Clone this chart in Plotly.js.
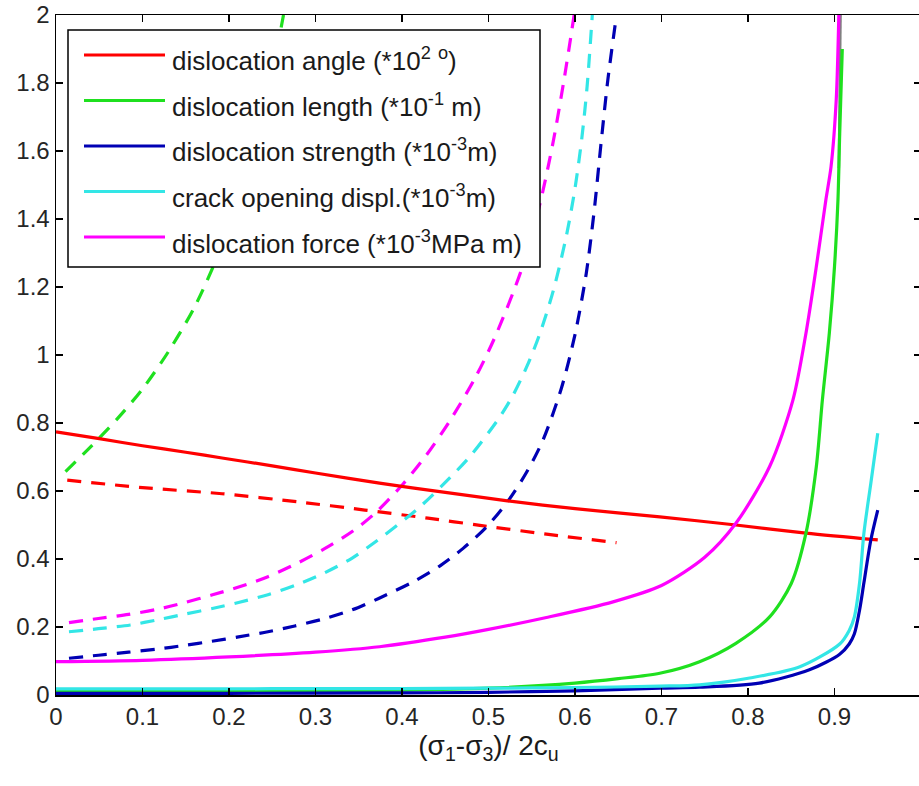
<!DOCTYPE html>
<html>
<head>
<meta charset="utf-8">
<script src="https://cdn.plot.ly/plotly-3.0.1.min.js"></script>
<style>html,body{margin:0;padding:0;overflow:hidden;background:#fff}</style>
</head>
<body>
<div id="chart"></div>
<script>
// ---------- data ----------
const seriesNames = [
  "dislocation angle (*10<sup>2</sup> <sup>o</sup>)",
  "dislocation length (*10<sup>-1</sup> m)",
  "dislocation strength (*10<sup>-3</sup>m)",
  "crack opening displ.(*10<sup>-3</sup>m)",
  "dislocation force (*10<sup>-3</sup>MPa m)"
];

// solid curves
const angleX    = [0, 0.05, 0.1, 0.15, 0.192, 0.25, 0.3, 0.374, 0.45, 0.522, 0.6, 0.698, 0.786, 0.867, 0.95];
const angleY    = [0.774, 0.754, 0.733, 0.714, 0.697, 0.674, 0.653, 0.623, 0.596, 0.571, 0.548, 0.524, 0.50, 0.476, 0.456];
const lengthX   = [0, 0.1, 0.2, 0.3, 0.4, 0.5, 0.6, 0.65, 0.698, 0.744, 0.786, 0.825, 0.85, 0.867, 0.879, 0.886, 0.894, 0.9, 0.904, 0.906, 0.909];
const lengthY   = [0.01, 0.01, 0.011, 0.012, 0.014, 0.02, 0.035, 0.048, 0.064, 0.098, 0.152, 0.23, 0.328, 0.476, 0.672, 0.868, 1.064, 1.26, 1.456, 1.65, 1.9];
const strengthX = [0, 0.2, 0.4, 0.5, 0.6, 0.698, 0.744, 0.813, 0.871, 0.906, 0.917, 0.923, 0.929, 0.934, 0.942, 0.95];
const strengthY = [0.005, 0.005, 0.006, 0.008, 0.012, 0.02, 0.023, 0.035, 0.074, 0.12, 0.15, 0.18, 0.25, 0.33, 0.456, 0.544];
const crackX    = [0, 0.1, 0.2, 0.3, 0.4, 0.5, 0.6, 0.698, 0.744, 0.802, 0.86, 0.906, 0.917, 0.923, 0.929, 0.934, 0.942, 0.95];
const crackY    = [0.018, 0.018, 0.018, 0.019, 0.019, 0.02, 0.022, 0.026, 0.03, 0.05, 0.083, 0.15, 0.19, 0.23, 0.33, 0.476, 0.623, 0.77];
const forceX    = [0, 0.1, 0.2, 0.3, 0.374, 0.45, 0.5, 0.567, 0.644, 0.7, 0.75, 0.786, 0.825, 0.852, 0.867, 0.879, 0.89, 0.896, 0.902, 0.905];
const forceY    = [0.098, 0.102, 0.112, 0.126, 0.142, 0.17, 0.193, 0.228, 0.274, 0.322, 0.405, 0.505, 0.672, 0.868, 1.064, 1.26, 1.456, 1.554, 1.75, 2.0];
const greyX     = [0.905, 0.906, 0.907];
const greyY     = [1.55, 1.8, 2.0];

// dashed curves
const angleDX    = [0.013, 0.1, 0.192, 0.28, 0.357, 0.43, 0.49, 0.567, 0.648];
const angleDY    = [0.632, 0.610, 0.592, 0.568, 0.544, 0.52, 0.499, 0.473, 0.448];
const lengthDX   = [0.011, 0.04, 0.07, 0.1, 0.13, 0.16, 0.19, 0.215, 0.24, 0.263];
const lengthDY   = [0.657, 0.73, 0.81, 0.90, 1.01, 1.14, 1.31, 1.49, 1.71, 2.0];
const strengthDX = [0.015, 0.049, 0.084, 0.117, 0.149, 0.18, 0.211, 0.245, 0.276, 0.311, 0.342, 0.373, 0.413, 0.444, 0.471, 0.498, 0.523, 0.544, 0.563, 0.584, 0.6, 0.613, 0.622, 0.63, 0.638, 0.648];
const strengthDY = [0.108, 0.117, 0.126, 0.135, 0.146, 0.158, 0.171, 0.186, 0.203, 0.225, 0.25, 0.284, 0.333, 0.38, 0.432, 0.495, 0.572, 0.655, 0.75, 0.9, 1.06, 1.24, 1.42, 1.62, 1.81, 2.0];
const crackDX    = [0.015, 0.049, 0.086, 0.119, 0.149, 0.182, 0.211, 0.245, 0.278, 0.311, 0.342, 0.369, 0.417, 0.448, 0.478, 0.511, 0.528, 0.545, 0.559, 0.575, 0.59, 0.6, 0.608, 0.614, 0.62];
const crackDY    = [0.186, 0.195, 0.206, 0.222, 0.238, 0.255, 0.272, 0.295, 0.324, 0.36, 0.402, 0.45, 0.545, 0.62, 0.70, 0.81, 0.88, 0.97, 1.06, 1.19, 1.35, 1.49, 1.64, 1.79, 2.0];
const forceDX    = [0.015, 0.049, 0.084, 0.117, 0.149, 0.18, 0.213, 0.245, 0.28, 0.311, 0.342, 0.369, 0.401, 0.428, 0.455, 0.484, 0.507, 0.538, 0.559, 0.575, 0.588, 0.599];
const forceDY    = [0.213, 0.225, 0.237, 0.252, 0.272, 0.294, 0.319, 0.348, 0.389, 0.431, 0.48, 0.535, 0.62, 0.705, 0.805, 0.93, 1.05, 1.25, 1.44, 1.63, 1.82, 2.0];

const xTicks = [0, 0.1, 0.2, 0.3, 0.4, 0.5, 0.6, 0.7, 0.8, 0.9, 1];
const yTicks = [0, 0.2, 0.4, 0.6, 0.8, 1, 1.2, 1.4, 1.6, 1.8, 2];

// ---------- styling ----------
const colors = ["#ff0000", "#1fe01f", "#0000b4", "#33e6e6", "#ff00ff"];
const FONT = "Liberation Sans, Arial, Helvetica, sans-serif";
const LW = 3.2;
const DASH = "14px,10px";

function tr(x, y, color, dash, name) {
  return {x: x, y: y, type: "scatter", mode: "lines", name: name, showlegend: false,
          hoverinfo: "skip", line: {color: color, width: LW, dash: dash, shape: "spline", smoothing: 0.8}};
}

const data = [
  tr(angleDX, angleDY, colors[0], DASH, "angle (dashed)"),
  tr(lengthDX, lengthDY, colors[1], DASH, "length (dashed)"),
  tr(strengthDX, strengthDY, colors[2], DASH, "strength (dashed)"),
  tr(crackDX, crackDY, colors[3], DASH, "crack (dashed)"),
  tr(forceDX, forceDY, colors[4], DASH, "force (dashed)"),
  {x: greyX, y: greyY, type: "scatter", mode: "lines", showlegend: false, hoverinfo: "skip",
   line: {color: "#808080", width: 2.5}},
  tr(angleX, angleY, colors[0], "solid", seriesNames[0]),
  tr(lengthX, lengthY, colors[1], "solid", seriesNames[1]),
  tr(strengthX, strengthY, colors[2], "solid", seriesNames[2]),
  tr(crackX, crackY, colors[3], "solid", seriesNames[3]),
  tr(forceX, forceY, colors[4], "solid", seriesNames[4])
];

// manual MATLAB-style legend box
const W = 921, H = 786, ML = 56, MR = 0, MT = 15, MB = 91;
const pw = W - ML - MR, ph = H - MT - MB;
const px = v => (v - ML) / pw;           // pixel -> paper x
const py = v => (H - MB - v) / ph;       // pixel -> paper y
const boxL = 68, boxR = 540, boxT = 30, boxB = 267;
const rowY0 = 55, rowStep = 45.5, lineL = 84, lineR = 165, textL = 170;

const shapes = [{type: "rect", xref: "paper", yref: "paper",
  x0: px(boxL), x1: px(boxR), y0: py(boxB), y1: py(boxT),
  fillcolor: "#ffffff", line: {color: "#000000", width: 1.5}, layer: "above"}];
const annotations = [];
seriesNames.forEach((nm, i) => {
  const ry = rowY0 + i * rowStep;
  shapes.push({type: "line", xref: "paper", yref: "paper", x0: px(lineL), x1: px(lineR),
    y0: py(ry), y1: py(ry), line: {color: colors[i], width: LW}, layer: "above"});
  annotations.push({xref: "paper", yref: "paper", x: px(textL), y: py(ry + 5),
    xanchor: "left", yanchor: "middle", showarrow: false, text: nm,
    font: {family: FONT, size: 26, color: "#1a1a1a"}});
});

const axisCommon = {
  showgrid: false, zeroline: false, showline: true, linecolor: "#000", linewidth: 1.5,
  mirror: "ticks", ticks: "inside", ticklen: 7, tickwidth: 1.3, tickcolor: "#000",
  tickfont: {family: FONT, size: 24, color: "#262626"}, fixedrange: true
};

const layout = {
  width: W, height: H, margin: {l: ML, r: MR, t: MT, b: MB, pad: 0},
  paper_bgcolor: "#ffffff", plot_bgcolor: "#ffffff", showlegend: false,
  xaxis: Object.assign({}, axisCommon, {range: [0, 1], tickmode: "array", tickvals: xTicks,
    ticktext: xTicks.map(String),
    title: {text: "(σ<sub>1</sub>-σ<sub>3</sub>)/ 2c<sub>u</sub>", standoff: 6,
            font: {family: FONT, size: 28, color: "#1a1a1a"}}}),
  yaxis: Object.assign({}, axisCommon, {range: [0, 2], tickmode: "array", tickvals: yTicks,
    ticktext: yTicks.map(String)}),
  shapes: shapes, annotations: annotations
};

Plotly.newPlot("chart", data, layout, {displayModeBar: false, staticPlot: true});
</script>
</body>
</html>
